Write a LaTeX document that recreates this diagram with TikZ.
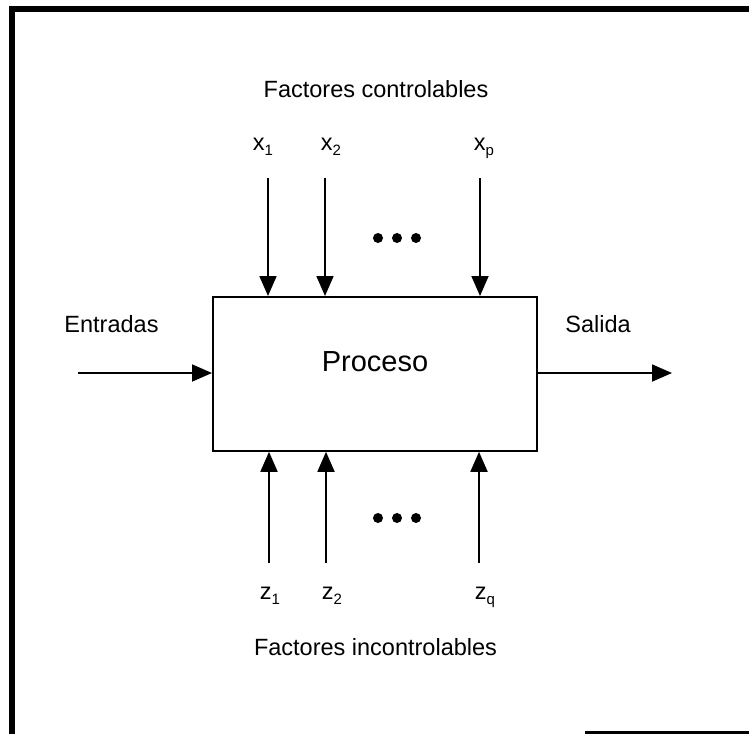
\documentclass[tikz,border=0pt]{standalone}
\usepackage{fontspec}
\setmainfont{Liberation Sans}
\usetikzlibrary{arrows.meta}
% variable with a lowered index
\newcommand\idx[2]{#1\raisebox{-5pt}{\fontsize{15}{15}\selectfont #2}}
\begin{document}
\begin{tikzpicture}[x=1pt,y=-1pt,
  txt/.style={font=\fontsize{23.5}{26}\selectfont, inner sep=0pt, anchor=base},
  flow/.style={line width=1.8pt, -{Triangle[length=20pt,width=17pt]}},
  blob/.style={circle, fill=black, inner sep=0pt, minimum size=10pt}]
\useasboundingbox (0,0) rectangle (749,734);

% page frame
\draw[line width=6pt] (12,734) -- (12,9) -- (749,9);
\draw[line width=3pt] (585,732.5) -- (749,732.5);

% process block
\node[draw, line width=1.8pt, minimum width=324pt, minimum height=154pt,
      anchor=north west, inner sep=0pt] (box) at (212,296) {};
\node[txt, font=\fontsize{29}{32}\selectfont] (proc) at (375,371) {Proceso};

% input and output
\coordinate (in) at (78,373);
\coordinate (out) at (672,373);
\draw[flow] (in) -- (in -| box.west);
\draw[flow] (out -| box.east) -- (out);
\node[txt] (entradas) at (111.5,332) {Entradas};
\node[txt] (salida) at (598,332) {Salida};

% controllable factors
\node[txt] (fc) at (376,97) {Factores controlables};
\node[txt] (x1) at (263,150) {\idx{x}{1}};
\node[txt] (x2) at (331,150) {\idx{x}{2}};
\node[txt] (xp) at (484,150) {\idx{x}{p}};
\coordinate (t1) at (268,178);
\coordinate (t2) at (325,178);
\coordinate (tp) at (480,178);
\foreach \c in {t1,t2,tp} \draw[flow] (\c) -- (\c |- box.north);
\node[blob] (d1) at (378,238) {};
\node[blob] (d2) at (397,238) {};
\node[blob] (d3) at (416,238) {};

% uncontrollable factors
\coordinate (b1) at (269,563);
\coordinate (b2) at (326,563);
\coordinate (bq) at (479,563);
\foreach \c in {b1,b2,bq} \draw[flow] (\c) -- (\c |- box.south);
\node[blob] (e1) at (378,518) {};
\node[blob] (e2) at (397,518) {};
\node[blob] (e3) at (416,518) {};
\node[txt] (z1) at (270,599) {\idx{z}{1}};
\node[txt] (z2) at (332,599) {\idx{z}{2}};
\node[txt] (zq) at (485,599) {\idx{z}{q}};
\node[txt] (fi) at (375.5,655) {Factores incontrolables};
\end{tikzpicture}
\end{document}
